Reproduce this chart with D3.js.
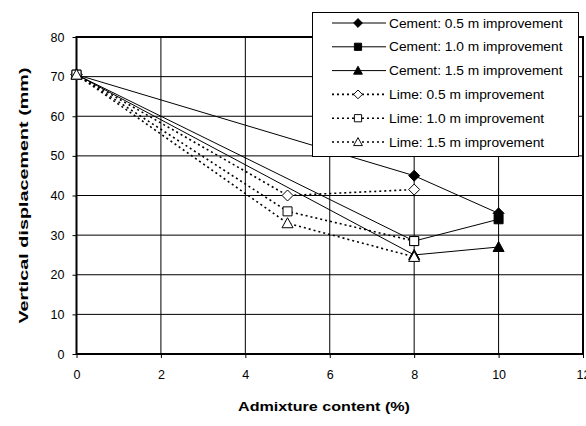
<!DOCTYPE html>
<html>
<head>
<meta charset="utf-8">
<script src="https://cdn.jsdelivr.net/npm/d3@7"></script>
<style>
  body { margin: 0; background: #fff; }
  text { font-family: "Liberation Sans", Arial, sans-serif; }
</style>
</head>
<body>
<svg id="chart"></svg>
<script>
// Data
const seriesNames = [
  "Cement: 0.5 m improvement",
  "Cement: 1.0 m improvement",
  "Cement: 1.5 m improvement",
  "Lime: 0.5 m improvement",
  "Lime: 1.0 m improvement",
  "Lime: 1.5 m improvement"
];
const cementX = [0, 8, 10];
const limeX = [0, 5, 8];
const cement05 = [70.5, 45, 35.5];
const cement10 = [70.5, 28.5, 34];
const cement15 = [70.5, 25, 27];
const lime05 = [70.5, 40, 41.5];
const lime10 = [70.5, 36, 28.5];
const lime15 = [70.5, 33, 24.5];
const xTicks = [0, 2, 4, 6, 8, 10, 12];
const yTicks = [0, 10, 20, 30, 40, 50, 60, 70, 80];

const series = [
  {name: seriesNames[0], xs: cementX, ys: cement05, shape: "diamond", filled: true, dashed: false},
  {name: seriesNames[1], xs: cementX, ys: cement10, shape: "square", filled: true, dashed: false},
  {name: seriesNames[2], xs: cementX, ys: cement15, shape: "triangle", filled: true, dashed: false},
  {name: seriesNames[3], xs: limeX, ys: lime05, shape: "diamond", filled: false, dashed: true},
  {name: seriesNames[4], xs: limeX, ys: lime10, shape: "square", filled: false, dashed: true},
  {name: seriesNames[5], xs: limeX, ys: lime15, shape: "triangle", filled: false, dashed: true}
];

const width = 586, height = 426;
const margin = {top: 37, right: 3, bottom: 72, left: 76.5};

const svg = d3.select("#chart")
  .attr("width", width)
  .attr("height", height);

const x = d3.scaleLinear().domain([0, 12]).range([margin.left, width - margin.right]);
const y = d3.scaleLinear().domain([0, 80]).range([height - margin.bottom, margin.top]);

// Gridlines
svg.append("g")
  .selectAll("line")
  .data(xTicks.slice(1, -1))
  .enter().append("line")
  .attr("x1", d => x(d)).attr("x2", d => x(d))
  .attr("y1", y(0)).attr("y2", y(80))
  .attr("stroke", "#000").attr("stroke-width", 1);

svg.append("g")
  .selectAll("line")
  .data(yTicks.slice(1, -1))
  .enter().append("line")
  .attr("x1", x(0)).attr("x2", x(12))
  .attr("y1", d => y(d)).attr("y2", d => y(d))
  .attr("stroke", "#000").attr("stroke-width", 1);

// Axes
const xAxis = svg.append("g")
  .attr("transform", `translate(0,${y(0)})`)
  .call(d3.axisBottom(x).tickValues(xTicks).tickSize(4).tickPadding(12));
const yAxis = svg.append("g")
  .attr("transform", `translate(${x(0)},0)`)
  .call(d3.axisLeft(y).tickValues(yTicks).tickSize(4).tickPadding(8));
[xAxis, yAxis].forEach(a => {
  a.select(".domain").remove();
  a.selectAll("text").attr("font-size", 12.5).attr("fill", "#000")
    .style("font-family", "'Liberation Sans', Arial, sans-serif");
  a.selectAll("line").attr("stroke", "#000");
});

// Plot frame
svg.append("rect")
  .attr("x", x(0)).attr("y", y(80))
  .attr("width", x(12) - x(0)).attr("height", y(0) - y(80))
  .attr("fill", "none").attr("stroke", "#000").attr("stroke-width", 2);

// Marker helper
function markerPath(shape) {
  if (shape === "diamond") return "M0,-5.5L5.5,0L0,5.5L-5.5,0Z";
  if (shape === "square") return "M-4.5,-4.5H4.5V4.5H-4.5Z";
  return "M0,-5.5L5.5,4.5H-5.5Z";
}

const line = d3.line().x(d => x(d[0])).y(d => y(d[1]));

// Lines
series.forEach(s => {
  const pts = s.xs.map((v, i) => [v, s.ys[i]]);
  svg.append("path")
    .attr("d", line(pts))
    .attr("fill", "none")
    .attr("stroke", "#000")
    .attr("stroke-width", s.dashed ? 1.6 : 1)
    .attr("stroke-dasharray", s.dashed ? "2,3" : null);
});

// Markers
series.forEach(s => {
  svg.append("g")
    .selectAll("path")
    .data(s.xs.map((v, i) => [v, s.ys[i]]))
    .enter().append("path")
    .attr("d", markerPath(s.shape))
    .attr("transform", d => `translate(${x(d[0])},${y(d[1])})`)
    .attr("fill", s.filled ? "#000" : "#fff")
    .attr("stroke", "#000")
    .attr("stroke-width", 1);
});

// Axis titles
svg.append("text")
  .attr("x", 324)
  .attr("y", 411)
  .attr("text-anchor", "middle")
  .attr("font-size", 13.5)
  .attr("font-weight", "bold")
  .attr("textLength", 172)
  .attr("lengthAdjust", "spacingAndGlyphs")
  .text("Admixture content (%)");

svg.append("text")
  .attr("transform", `translate(28,${(y(0) + y(80)) / 2}) rotate(-90)`)
  .attr("text-anchor", "middle")
  .attr("font-size", 13.5)
  .attr("font-weight", "bold")
  .attr("textLength", 256)
  .attr("lengthAdjust", "spacingAndGlyphs")
  .text("Vertical displacement (mm)");

// Legend
const legend = svg.append("g");
legend.append("rect")
  .attr("x", 312.5).attr("y", 12.5)
  .attr("width", 266).attr("height", 144)
  .attr("fill", "#fff").attr("stroke", "#000").attr("stroke-width", 1);

const legendItems = legend.selectAll("g.item")
  .data(series)
  .enter().append("g")
  .attr("transform", (d, i) => `translate(0,${23 + i * 23.8})`);

legendItems.append("line")
  .attr("x1", 332).attr("x2", 386)
  .attr("y1", 0).attr("y2", 0)
  .attr("stroke", "#000")
  .attr("stroke-width", d => d.dashed ? 1.6 : 1)
  .attr("stroke-dasharray", d => d.dashed ? "2,3" : null);

legendItems.append("path")
  .attr("d", d => markerPath(d.shape))
  .attr("transform", "translate(358,0) scale(0.8)")
  .attr("fill", d => d.filled ? "#000" : "#fff")
  .attr("stroke", "#000")
  .attr("stroke-width", 1.2);

legendItems.append("text")
  .attr("x", 389)
  .attr("y", 4.5)
  .attr("font-size", 12.5)
  .attr("lengthAdjust", "spacingAndGlyphs")
  .text(d => d.name)
  .each(function() {
    // the reference type is slightly wider than Arial at this size
    d3.select(this).attr("textLength", this.getComputedTextLength() * 1.1);
  });
</script>
</body>
</html>
